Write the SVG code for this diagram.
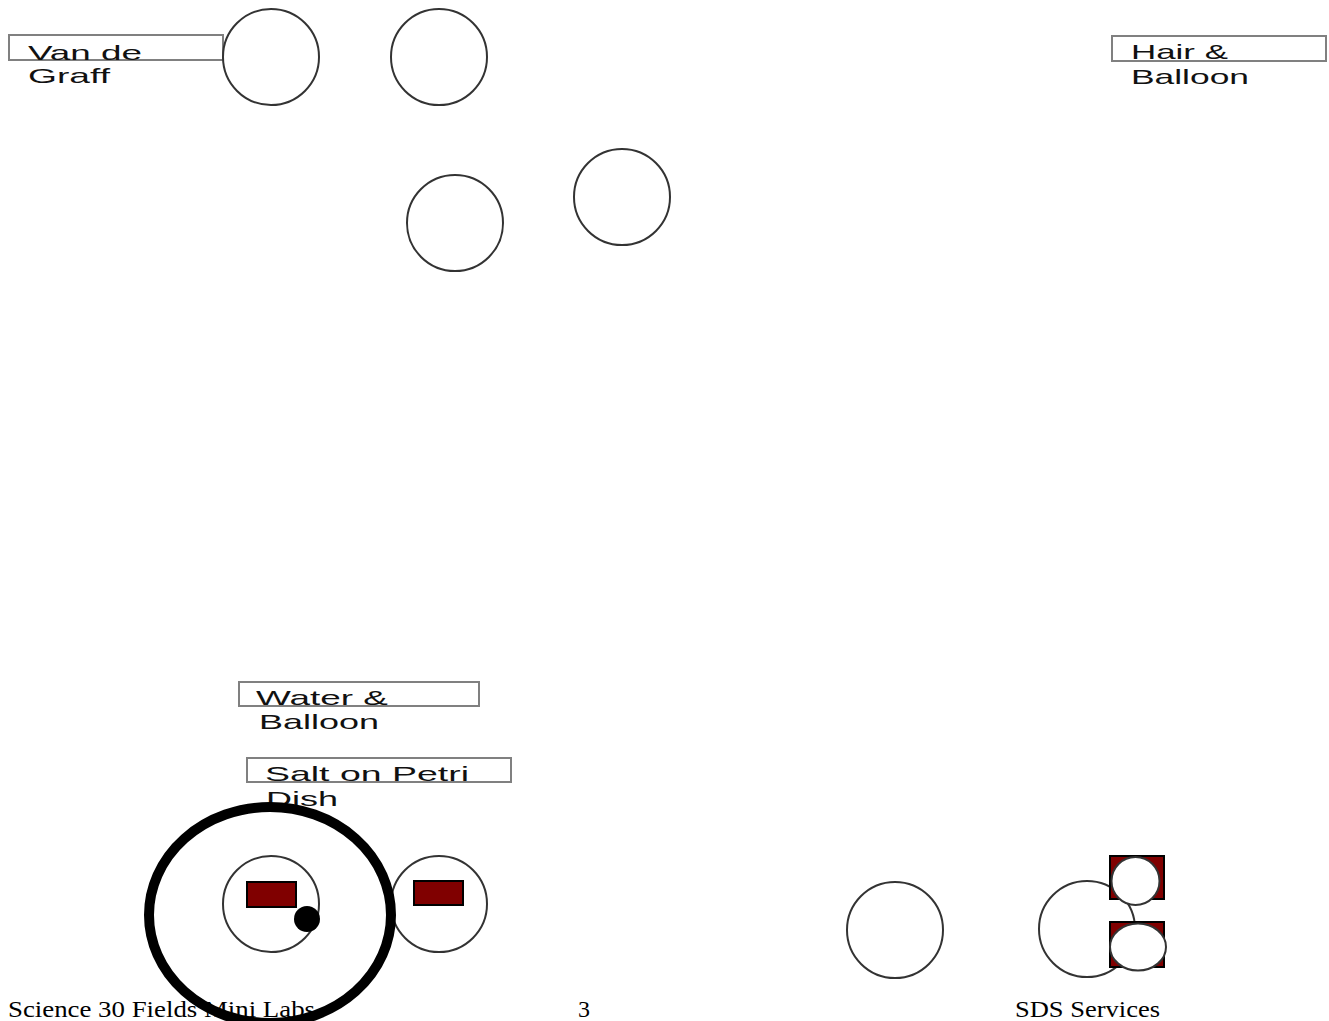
<svg xmlns="http://www.w3.org/2000/svg" width="1329" height="1021" viewBox="0 0 1329 1021">
<style>
.c{fill:#fff;stroke:#333;stroke-width:2}
.box{fill:none;stroke:#808080;stroke-width:2}
.lbl{font-family:"Liberation Sans",Arial,sans-serif;font-size:21px;fill:#111}
.red{fill:#800000;stroke:#000;stroke-width:2}
.foot{font-family:"Liberation Serif","Times New Roman",serif;font-size:24px;fill:#000}
</style>
<rect width="1329" height="1021" fill="#fff"/>
<g id="van-de-graff">
<rect class="box" x="9" y="35" width="214" height="25"/>
<text class="lbl" x="28" y="60" textLength="114" lengthAdjust="spacingAndGlyphs">Van de</text>
<text class="lbl" x="28" y="83" textLength="82" lengthAdjust="spacingAndGlyphs">Graff</text>
</g>
<g id="circle-a"><circle class="c" cx="271" cy="57" r="48"/></g>
<g id="circle-b"><circle class="c" cx="439" cy="57" r="48"/></g>
<g id="circle-c"><circle class="c" cx="455" cy="223" r="48"/></g>
<g id="circle-d"><circle class="c" cx="622" cy="197" r="48"/></g>
<g id="hair-balloon">
<rect class="box" x="1112" y="36" width="214" height="25"/>
<text class="lbl" x="1131" y="59" textLength="97" lengthAdjust="spacingAndGlyphs">Hair &amp;</text>
<text class="lbl" x="1131" y="84" textLength="118" lengthAdjust="spacingAndGlyphs">Balloon</text>
</g>
<g id="water-balloon">
<rect class="box" x="239" y="682" width="240" height="24"/>
<text class="lbl" x="256" y="705" textLength="132" lengthAdjust="spacingAndGlyphs">Water &amp;</text>
<text class="lbl" x="259" y="729" textLength="120" lengthAdjust="spacingAndGlyphs">Balloon</text>
</g>
<g id="salt-petri">
<rect class="box" x="247" y="758" width="264" height="24"/>
<text class="lbl" x="265" y="781" textLength="204" lengthAdjust="spacingAndGlyphs">Salt on Petri</text>
<text class="lbl" x="266" y="806" textLength="72" lengthAdjust="spacingAndGlyphs">Dish</text>
</g>
<g id="footer">
<text class="foot" x="8" y="1017" textLength="307" lengthAdjust="spacingAndGlyphs">Science 30 Fields Mini Labs</text>
<text class="foot" x="578" y="1017">3</text>
<text class="foot" x="1015" y="1017" textLength="145" lengthAdjust="spacingAndGlyphs">SDS Services</text>
</g>
<g id="dish-1">
<circle class="c" cx="271" cy="904" r="48"/>
<rect class="red" x="247" y="882" width="49" height="25"/>
<circle cx="307" cy="919" r="13" fill="#000"/>
</g>
<g id="dish-2">
<circle class="c" cx="439" cy="904" r="48"/>
<rect class="red" x="414" y="881" width="49" height="24"/>
</g>
<g id="ring">
<ellipse cx="270" cy="915" rx="121" ry="108" fill="none" stroke="#000" stroke-width="10"/>
</g>
<g id="circle-e"><circle class="c" cx="895" cy="930" r="48"/></g>
<g id="cluster">
<circle class="c" cx="1087" cy="929" r="48"/>
<rect class="red" x="1110" y="856" width="54" height="43"/>
<circle class="c" cx="1135.5" cy="881" r="24"/>
<rect class="red" x="1110" y="922" width="54" height="45"/>
<ellipse class="c" cx="1138" cy="947" rx="28" ry="23.5"/>
</g>
</svg>
